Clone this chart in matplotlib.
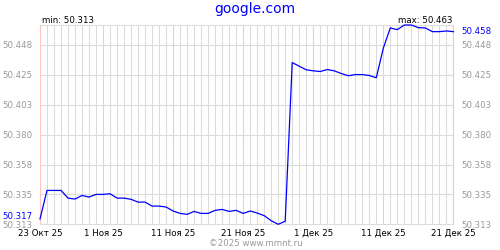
import matplotlib
matplotlib.use('Agg')
import matplotlib.pyplot as plt
import matplotlib.dates as mdates
import matplotlib.transforms as mtransforms
import pandas as pd

# daily rate, 23 Oct 2025 .. 21 Dec 2025
dates = pd.date_range('2025-10-23', '2025-12-21', freq='D')
rates = [
    50.317, 50.3385, 50.3385, 50.3385, 50.3327, 50.3320, 50.3347, 50.3335, 50.3355,
    50.3355, 50.3360, 50.3327, 50.3327, 50.3318, 50.3297, 50.3297, 50.3267, 50.3267,
    50.3260, 50.3230, 50.3212, 50.3205, 50.3227, 50.3212, 50.3212, 50.3235, 50.3242,
    50.3227, 50.3235, 50.3212, 50.3230, 50.3215, 50.3195, 50.3157, 50.3130, 50.3153,
    50.4347, 50.4320, 50.4293,
    50.4285, 50.4280, 50.4295, 50.4285, 50.4265, 50.4248, 50.4257, 50.4257, 50.4250,
    50.4233, 50.4455, 50.4608, 50.4595, 50.4630, 50.4630, 50.4610, 50.4608, 50.4580,
    50.4580, 50.4585, 50.4580,
]

label_dates = pd.to_datetime(['2025-10-23', '2025-11-01', '2025-11-11', '2025-11-21',
                              '2025-12-01', '2025-12-11', '2025-12-21'])
label_texts = ['23 Окт 25', '1 Ноя 25', '11 Ноя 25', '21 Ноя 25',
               '1 Дек 25', '11 Дек 25', '21 Дек 25']
y_ticks = [50.313, 50.3355, 50.358, 50.3805, 50.403, 50.4255, 50.448]
y_labels = ['50.313', '50.335', '50.358', '50.380', '50.403', '50.425', '50.448']

GRID = '#dcdcdc'
PINK = '#ffc4c4'
BLUE = '#0000ff'
GREY = '#999999'
FS = 6.2

plt.rcParams['font.family'] = 'DejaVu Sans'

fig = plt.figure(figsize=(5, 2.5), dpi=100)
ax = fig.add_axes([0.08, 0.1028, 0.8267, 0.7972])

ymin, ymax = min(rates), max(rates)
ax.set_xlim(dates[0], dates[-1])
ax.set_ylim(ymin, ymax)

# daily grey grid, pink at labelled dates
ax.set_xticks(mdates.date2num(dates), minor=True)
ax.set_xticks(mdates.date2num(label_dates))
ax.set_xticklabels(label_texts)
ax.grid(True, which='minor', axis='x', color=GRID, lw=0.8)
ax.grid(True, which='major', axis='x', color=PINK, lw=0.8)
ax.set_yticks(y_ticks)
ax.set_yticklabels(y_labels)
ax.grid(True, which='major', axis='y', color=GRID, lw=0.8)
ax.set_axisbelow(True)

ax.tick_params(axis='both', which='both', length=0)
ax.tick_params(axis='x', labelsize=FS, pad=3.4, colors='black')
ax.tick_params(axis='y', labelsize=FS, pad=5.5, labelcolor=GREY,
               labelleft=True, labelright=True)

for side in ['top', 'bottom']:
    ax.spines[side].set_color(GRID)
    ax.spines[side].set_linewidth(0.8)
for side in ['left', 'right']:
    ax.spines[side].set_color(PINK)
    ax.spines[side].set_linewidth(0.8)

ax.plot(dates, rates, color=BLUE, lw=0.9, clip_on=False, zorder=3)

# first / last value labels
trans = mtransforms.blended_transform_factory(ax.transAxes, ax.transData)
up = mtransforms.offset_copy(trans, fig=fig, x=0, y=2, units='dots')
ax.text(-0.0186, rates[0], f'{rates[0]:.3f}', transform=up, ha='right',
        va='center', color=BLUE, fontsize=FS)
ax.text(1.0205, rates[-1], f'{rates[-1]:.3f}', transform=trans, ha='left',
        va='center', color=BLUE, fontsize=FS)

fig.text(0.083, 0.907, f'min: {ymin:.3f}', ha='left', va='baseline',
         fontsize=FS, color='black')
fig.text(0.905, 0.907, f'max: {ymax:.3f}', ha='right', va='baseline',
         fontsize=FS, color='black')

fig.text(0.51, 0.947, 'google.com', ha='center', va='baseline',
         color=BLUE, fontsize=10)
fig.text(0.512, 0.024, '©2025 www.mmnt.ru', ha='center', va='center',
         color=GREY, fontsize=FS)

fig.savefig('out.png', dpi=100, facecolor='white')
